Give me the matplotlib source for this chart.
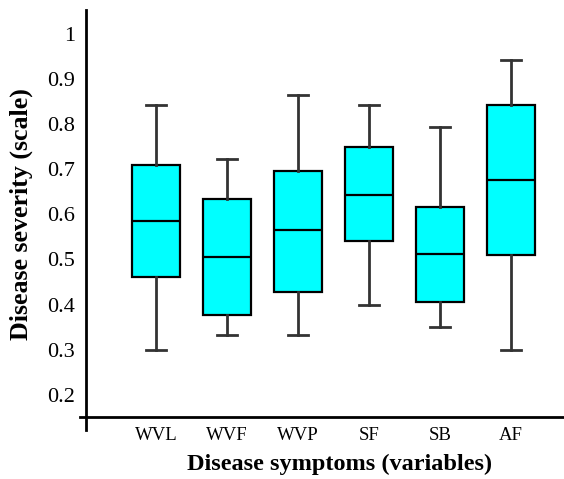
import numpy as np
import matplotlib
matplotlib.use("Agg")
from matplotlib import pyplot as plt

plt.rcParams['font.family'] = ['Liberation Serif', 'DejaVu Serif']

# box summary values
symptoms = ['WVL', 'WVF', 'WVP', 'SF', 'SB', 'AF']
low = [0.300, 0.333, 0.333, 0.399, 0.350, 0.300]
q1 = [0.461, 0.377, 0.428, 0.541, 0.406, 0.510]
med = [0.585, 0.506, 0.565, 0.643, 0.512, 0.676]
q3 = [0.710, 0.634, 0.696, 0.749, 0.616, 0.843]
high = [0.843, 0.723, 0.865, 0.843, 0.794, 0.942]
yticks = [0.2, 0.3, 0.4, 0.5, 0.6, 0.7, 0.8, 0.9, 1]

fig = plt.figure(figsize=(5.64, 4.79), dpi=100)
ax = fig.add_axes([80/564, 49/479, 484/564, 420/479])

stats = []
for i in range(len(symptoms)):
    stats.append({'whislo': low[i], 'q1': q1[i], 'med': med[i],
                  'q3': q3[i], 'whishi': high[i], 'fliers': []})

ax.bxp(stats, positions=np.arange(1, len(symptoms) + 1), widths=0.68,
       patch_artist=True, showfliers=False,
       boxprops=dict(facecolor='#00FFFF', edgecolor='black', linewidth=1.6),
       medianprops=dict(color='black', linewidth=1.6),
       whiskerprops=dict(color='#333333', linewidth=2),
       capprops=dict(color='#333333', linewidth=2), capwidths=0.28)

ax.set_xlim(-0.07, 6.746)
ax.set_ylim(0.122, 1.053)

ax.spines['top'].set_visible(False)
ax.spines['right'].set_visible(False)
ax.spines['left'].set_position(('data', 0.014))
ax.spines['bottom'].set_position(('data', 0.151))
ax.spines['left'].set_linewidth(2)
ax.spines['bottom'].set_linewidth(2)

ax.set_xticks(np.arange(1, len(symptoms) + 1))
ax.set_xticklabels(symptoms)
ax.set_yticks(yticks)
ax.set_yticklabels([f'{v:g}' for v in yticks])
ax.tick_params(axis='both', length=0)
ax.tick_params(axis='y', pad=8, labelsize=16)
ax.tick_params(axis='x', pad=7, labelsize=13.5)

fig.text(340/564, 1 - 464/479, 'Disease symptoms (variables)', ha='center', va='center',
         fontsize=17.5, fontweight='bold')
fig.text(21/564, 1 - 214/479, 'Disease severity (scale)', ha='center', va='center',
         rotation=90, fontsize=18.7, fontweight='bold')

fig.savefig('out.png', dpi=100)
